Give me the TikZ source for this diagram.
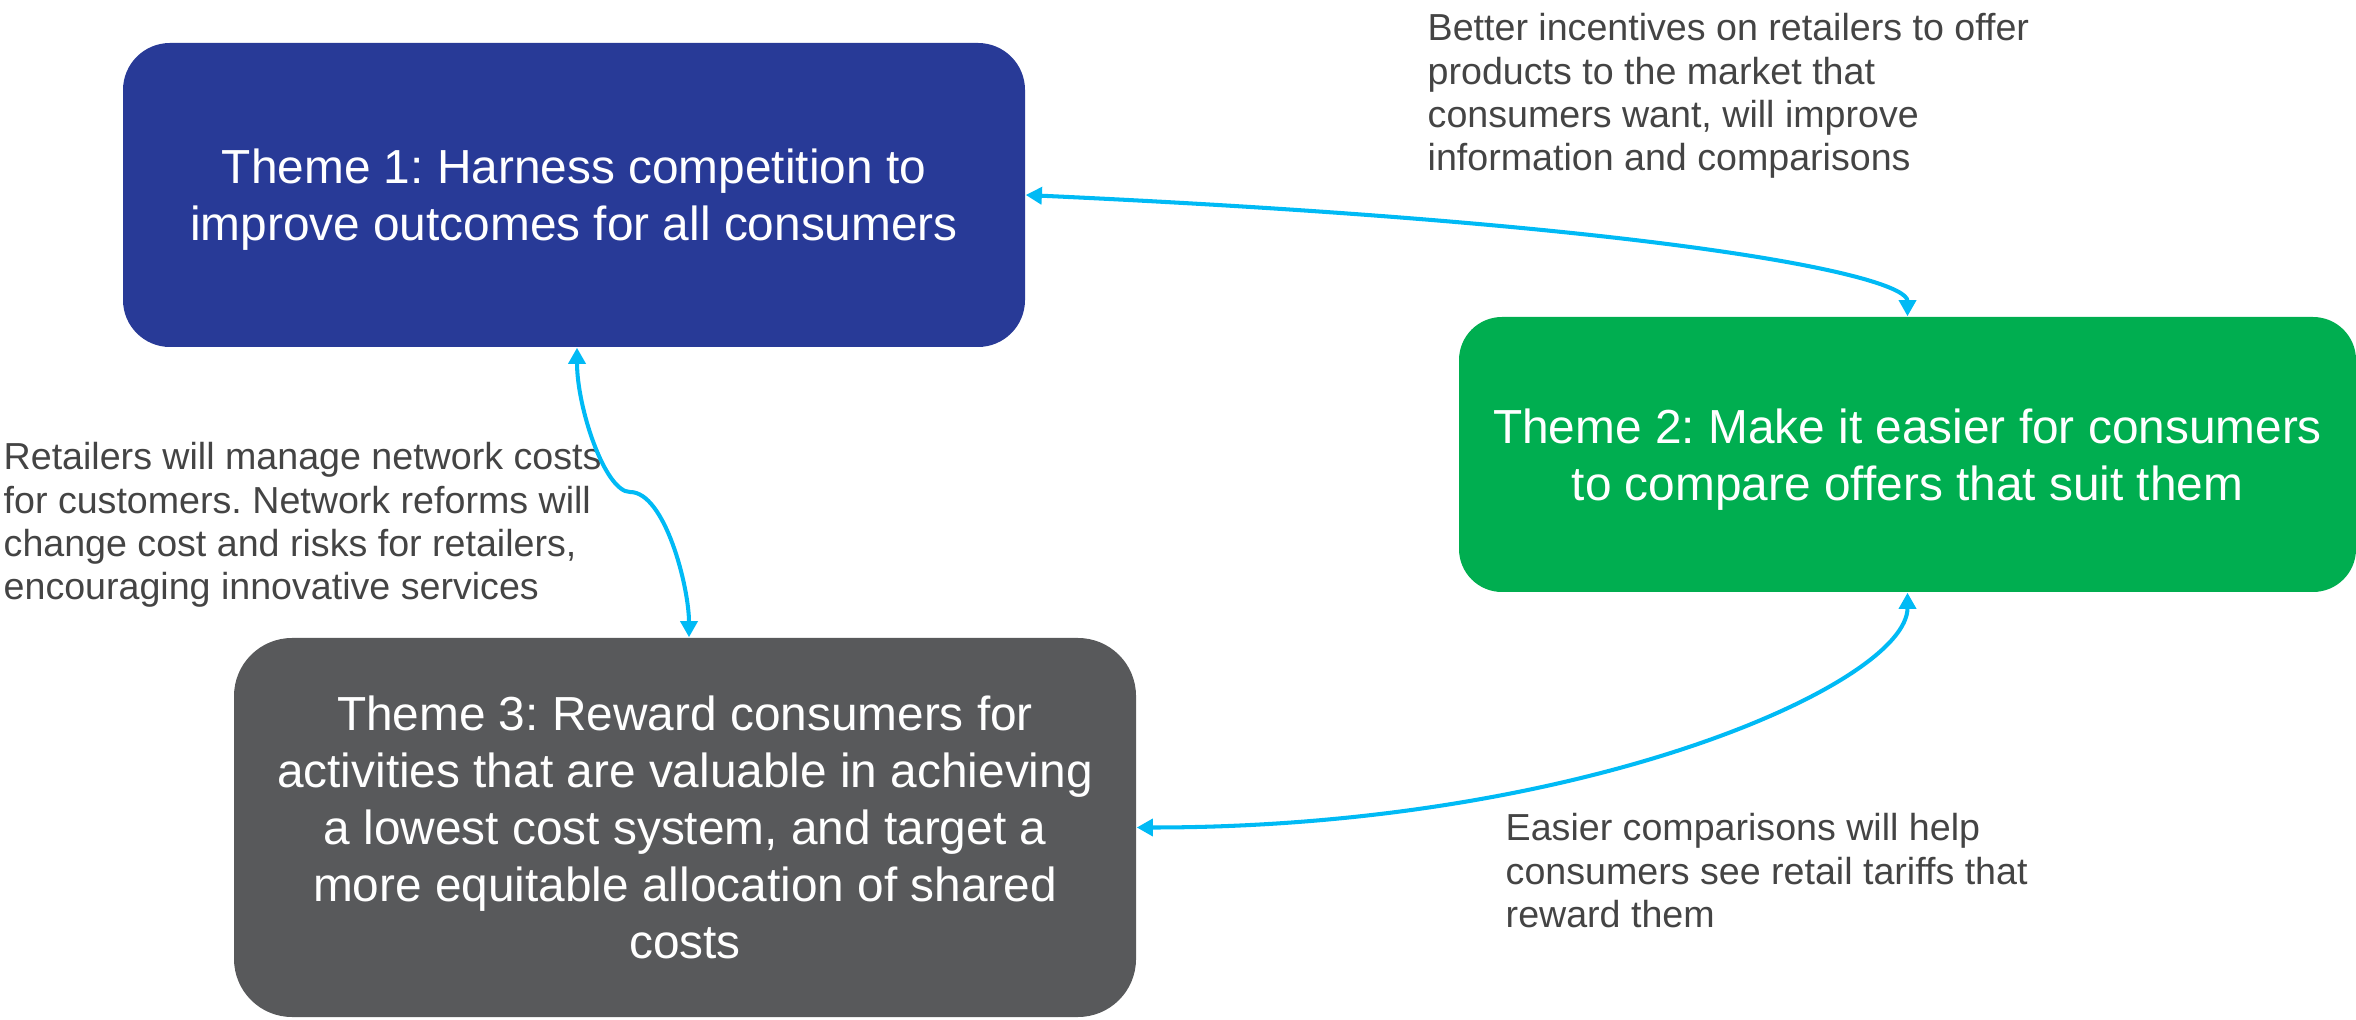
\documentclass[tikz,border=0pt]{standalone}
\usepackage{fontspec}
\setmainfont{Liberation Sans}
\usetikzlibrary{arrows.meta}
\frenchspacing

\definecolor{themeblue}{HTML}{283A97}
\definecolor{themegreen}{HTML}{00AE50}
\definecolor{themegray}{HTML}{58595B}
\definecolor{linkblue}{HTML}{00BAF5}
\definecolor{notegray}{HTML}{444444}

\tikzset{
  theme/.style={rectangle, inner sep=0pt, text=white, align=center, text depth=0pt,
    font=\fontsize{13.6}{16.2}\selectfont},
  note/.style={anchor=north west, inner sep=0pt, align=left, text=notegray,
    font=\fontsize{10.7}{12.3}\selectfont},
  link/.style={draw=linkblue, line width=1.15pt,
    {Triangle[width=4.8pt,length=4.6pt]}-{Triangle[width=4.8pt,length=4.6pt]}},
}

\begin{document}
\begin{tikzpicture}
  \useasboundingbox (0,0) rectangle (23.56,10.19);

  % the three themes
  \node[theme, fill=themeblue, rounded corners=0.47cm,
    minimum width=9.02cm, minimum height=3.04cm] (theme1) at (5.74,8.24)
    {Theme 1: Harness competition to\\improve outcomes for all consumers};
  \node[theme, fill=themegreen, rounded corners=0.43cm,
    minimum width=8.97cm, minimum height=2.75cm] (theme2) at (19.075,5.645)
    {Theme 2: Make it easier for consumers\\to compare offers that suit them};
  \node[theme, fill=themegray, rounded corners=0.58cm,
    minimum width=9.02cm, minimum height=3.79cm] (theme3) at (6.85,1.915)
    {Theme 3: Reward consumers for\\activities that are valuable in achieving\\
     a lowest cost system, and target a\\more equitable allocation of shared\\costs};

  % notes on the links
  \node[note] (note12) at (14.27,10.06)
    {Better incentives on retailers to offer\\products to the market that\\
     consumers want, will improve\\information and comparisons};
  \node[note] (note13) at (0.03,5.77)
    {Retailers will manage network costs\\for customers. Network reforms will\\
     change cost and risks for retailers,\\encouraging innovative services};
  \node[note] (note23) at (15.05,2.06)
    {Easier comparisons will help\\consumers see retail tariffs that\\reward them};

  \path
    coordinate (t1s)  at ([xshift=0.03cm]theme1.south)
    coordinate (t3n)  at ([xshift=0.04cm]theme3.north)
    coordinate (kink) at (6.30,5.27)
  ;

  \draw[link] (theme1.east) .. controls +(6.5,-0.30) and +(0,0.40) .. (theme2.north);
  \draw[link] (t1s) .. controls +(0,-0.60) and +(-0.25,0) .. (kink)
                    .. controls +(0.35,0) and +(0,0.50) .. (t3n);
  \draw[link] (theme2.south) .. controls +(0,-0.90) and +(4.50,0) .. (theme3.east);
\end{tikzpicture}
\end{document}
